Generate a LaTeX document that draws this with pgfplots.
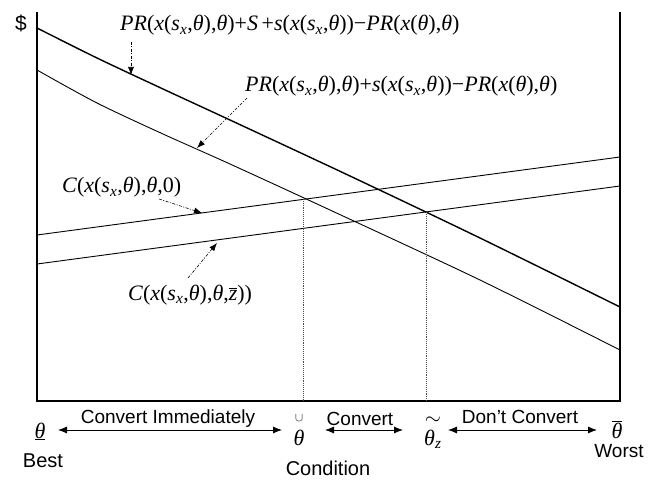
\documentclass[border=0pt]{standalone}
\usepackage{fontspec}
\setmainfont{Liberation Sans}
\newfontfamily\tms{Liberation Serif}
\usepackage{pgfplots}
\pgfplotsset{compat=1.18}
\usetikzlibrary{arrows.meta}
\newcommand{\I}[1]{\textit{#1}}
\newcommand{\sx}{\I{s}\textsubscript{\I{x}}}
\tikzset{
  lbl/.style={font=\tms\fontsize{22}{24}\selectfont, inner sep=0pt},
  txt/.style={font=\fontsize{19}{22}\selectfont, inner sep=0pt},
  pt/.style={-{Latex[length=8pt,width=6pt]}, line width=0.6pt, dash pattern=on 3pt off 1.5pt on 1pt off 1.5pt},
  dbl/.style={{Latex[length=9pt,width=7pt]}-{Latex[length=9pt,width=7pt]}, line width=0.8pt},
}

\begin{document}
\begin{tikzpicture}
\begin{axis}[
    scale only axis, width=583pt, height=389pt,
    xmin=37, xmax=620, ymin=78, ymax=467,
    hide axis, clip=false,
  ]
  % frame (no top edge)
  \draw[line width=1.4pt] (axis cs:37,467) -- (axis cs:37,78) -- (axis cs:620,78) -- (axis cs:620,467);

  % PR + S + s - PR
  \addplot[black, line width=1.4pt, smooth, tension=0.5] coordinates {(37,451) (97,421) (163,390) (230,359) (350,303) (480,241) (620,172)};
  % PR + s - PR
  \addplot[black, line width=0.9pt, smooth, tension=0.5] coordinates {(37,409) (97,376) (163,345) (230,315) (330,269) (480,199) (620,129)};
  % C(., theta, 0)
  \addplot[black, line width=0.9pt] coordinates {(37,244) (620,322)};
  % C(., theta, zbar)
  \addplot[black, line width=0.9pt] coordinates {(37,215) (620,293)};

  % thresholds
  \addplot[black!70, densely dotted, line width=0.9pt] coordinates {(303,280) (303,78)};
  \addplot[black!70, densely dotted, line width=0.9pt] coordinates {(426,267) (426,78)};

  % curve labels
  \node[lbl, anchor=base west] at (axis cs:120,448) {\I{PR}(\I{x}(\sx,\I{θ}),\I{θ})+\I{S}\,+\I{s}(\I{x}(\sx,\I{θ}))−\I{PR}(\I{x}(\I{θ}),\I{θ})};
  \node[lbl, anchor=base west] at (axis cs:245,387) {\I{PR}(\I{x}(\sx,\I{θ}),\I{θ})+\I{s}(\I{x}(\sx,\I{θ}))−\I{PR}(\I{x}(\I{θ}),\I{θ})};
  \node[lbl, anchor=base west] at (axis cs:62,286) {\I{C}(\I{x}(\sx,\I{θ}),\I{θ},0)};
  \node[lbl, anchor=base west] at (axis cs:128,179) {\I{C}(\I{x}(\sx,\I{θ}),\I{θ},$\overline{\mbox{\I{z}}}$))};
  \node[txt, font=\fontsize{21}{24}\selectfont, anchor=base west] at (axis cs:15,448) {\$};

  \draw[pt] (axis cs:131,437) -- (axis cs:131,404);
  \draw[pt] (axis cs:247,381) -- (axis cs:197,331);
  \draw[pt] (axis cs:159,280) -- (axis cs:202,266);
  \draw[pt] (axis cs:188,201) -- (axis cs:217,236);

  % bottom scale
  \node[lbl, anchor=base] at (axis cs:40,41) {$\underline{\mbox{\I{θ}}}$};
  \node[txt, font=\fontsize{20}{22}\selectfont, anchor=base] at (axis cs:43,12) {Best};
  \draw[dbl] (axis cs:58,49) -- (axis cs:282,49);
  \node[txt, anchor=base] at (axis cs:168,56) {Convert Immediately};
  \node[lbl, anchor=base] at (axis cs:299,34) {\I{θ}};
  \node[inner sep=0pt, font=\fontsize{12}{12}\selectfont] at (axis cs:299,61) {$\cup$};
  \node[txt, font=\fontsize{20}{22}\selectfont, anchor=base] at (axis cs:328,4) {Condition};
  \draw[dbl] (axis cs:325,49) -- (axis cs:403,49);
  \node[txt, anchor=base] at (axis cs:360,54) {Convert};
  \node[lbl, anchor=base west] at (axis cs:424,34) {\I{θ}\textsubscript{\I{z}}};
  \node[inner sep=0pt, font=\fontsize{20}{22}\selectfont] at (axis cs:433,58) {$\sim$};
  \draw[dbl] (axis cs:448,49) -- (axis cs:597,49);
  \node[txt, anchor=base] at (axis cs:520,56) {Don’t Convert};
  \node[lbl, anchor=base] at (axis cs:617,41) {$\overline{\mbox{\I{θ}}}$};
  \node[txt, anchor=base] at (axis cs:619,22) {Worst};
\end{axis}
\pgfresetboundingbox
\path[use as bounding box] (-37pt,-78pt) rectangle (615pt,401pt);
\end{tikzpicture}
\end{document}
